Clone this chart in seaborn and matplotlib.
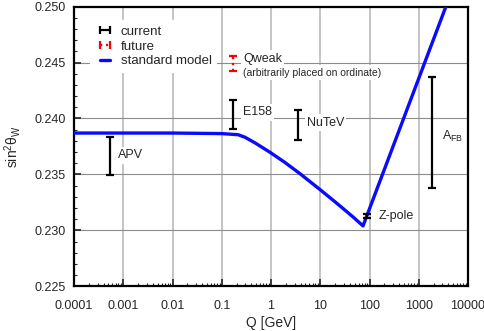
import numpy as np
import matplotlib
matplotlib.use("Agg")
import matplotlib.pyplot as plt
import seaborn as sns
import pandas as pd
from matplotlib.lines import Line2D
from matplotlib.ticker import FixedLocator, MultipleLocator, LogLocator, NullFormatter

# standard model running curve
sm_q = [0.0001, 0.001, 0.01, 0.1, 0.215, 0.294, 0.469, 0.946, 1.905, 4.0, 9.8, 21.3, 46.0, 73.8, 3550.0]
sm_s = [0.2387, 0.2387, 0.2387, 0.23865, 0.23855, 0.23833, 0.23783, 0.23699, 0.23608, 0.23502,
        0.23366, 0.23245, 0.23121, 0.2304, 0.2500]

# current measurements
meas_names = ['APV', 'E158', 'NuTeV', 'Z-pole', 'AFB']
meas_q = [0.00054, 0.17, 3.5, 87.0, 1870.0]
meas_s = [0.23664, 0.24032, 0.23942, 0.23128, 0.23874]
meas_err = [0.00170, 0.00130, 0.00138, 0.00020, 0.00496]

# future
fut_q = [0.17]
fut_s = [0.24496]
fut_err = [0.00067]

sns.set_style("ticks")
plt.rcParams['font.family'] = ['Liberation Sans', 'DejaVu Sans']

fig = plt.figure(figsize=(4.85, 3.31), dpi=100)
ax = fig.add_axes([0.1526, 0.135, 0.8124, 0.845])

# grid
for d in [1e-3, 1e-2, 1e-1, 1, 10, 100, 1000]:
    ax.axvline(d, color='#c4c4c4', lw=1.4, zorder=0)
for h in [0.230, 0.235, 0.240, 0.245]:
    ax.axhline(h, color='#8c8c8c', lw=0.8, zorder=0)

df = pd.DataFrame({'Q': sm_q, 's': sm_s})
sns.lineplot(data=df, x='Q', y='s', color='#0a0aff', lw=2.4, ax=ax, zorder=3)

ax.errorbar(meas_q, meas_s, yerr=meas_err, fmt='none', ecolor='black',
            elinewidth=1.6, capsize=3, capthick=1.6, zorder=4)
eb = ax.errorbar(fut_q, fut_s, yerr=fut_err, fmt='none', ecolor='red',
                 elinewidth=1.6, capsize=3, capthick=1.6, zorder=4)
eb[2][0].set_linestyle(':')

ax.set_xscale('log')
ax.set_xlim(1e-4, 1e4)
ax.set_ylim(0.225, 0.250)

ax.xaxis.set_major_locator(FixedLocator([1e-4, 1e-3, 1e-2, 1e-1, 1, 10, 100, 1000, 1e4]))
ax.set_xticklabels(['0.0001', '0.001', '0.01', '0.1', '1', '10', '100', '1000', '10000'])
ax.xaxis.set_minor_locator(LogLocator(base=10, subs=np.arange(2, 10), numticks=20))
ax.xaxis.set_minor_formatter(NullFormatter())
ax.yaxis.set_major_locator(MultipleLocator(0.005))
ax.yaxis.set_minor_locator(MultipleLocator(0.001))
ax.set_yticklabels([f'{v:.3f}' for v in ax.get_yticks()])

ax.tick_params(axis='x', which='major', pad=10)
ax.tick_params(axis='y', which='major', pad=6)
ax.tick_params(which='major', direction='in', length=5, width=1.2, labelsize=9,
               top=False, right=False)
ax.tick_params(which='minor', direction='in', length=2.5, width=0.8,
               top=False, right=False)
for sp in ax.spines.values():
    sp.set_linewidth(1.6)
    sp.set_color('black')

ax.set_xlabel('Q [GeV]', fontsize=10, labelpad=3)
ax.set_ylabel('sin$^\\mathregular{2}$θ$_\\mathregular{W}$', fontsize=10, labelpad=8)

box = dict(facecolor='white', edgecolor='none', pad=1.5)
tkw = dict(fontsize=9, va='center', ha='left', bbox=box, zorder=2)
ax.text(0.00078, 0.2367, 'APV', **tkw)
ax.text(0.27, 0.24054, 'E158', **tkw)
ax.text(5.3, 0.23964, 'NuTeV', **tkw)
ax.text(0.27, 0.24536, 'Qweak', **tkw)
ax.text(0.27, 0.24411, '(arbitrarily placed on ordinate)', fontsize=7.5,
        va='center', ha='left', bbox=box, zorder=2)
ax.text(150, 0.23125, 'Z-pole', **tkw)
ax.text(2900, 0.2384, 'A$_\\mathregular{FB}$', **tkw)

handles = [
    Line2D([], [], color='black', lw=1.6, marker='|', markersize=6, mew=1.6),
    Line2D([], [], color='red', lw=1.6, ls=':', marker='|', markersize=6, mew=1.6),
    Line2D([], [], color='#0a0aff', lw=2.4),
]
leg = ax.legend(handles, ['current', 'future', 'standard model'], numpoints=2,
                loc='upper left', bbox_to_anchor=(0.025, 0.975), fontsize=9.5,
                frameon=True, facecolor='white', edgecolor='none', framealpha=1,
                handlelength=1.4, handletextpad=0.5, labelspacing=0.2,
                borderpad=0.4, fancybox=False)
leg.set_zorder(2)

fig.savefig('out.png', dpi=100)
